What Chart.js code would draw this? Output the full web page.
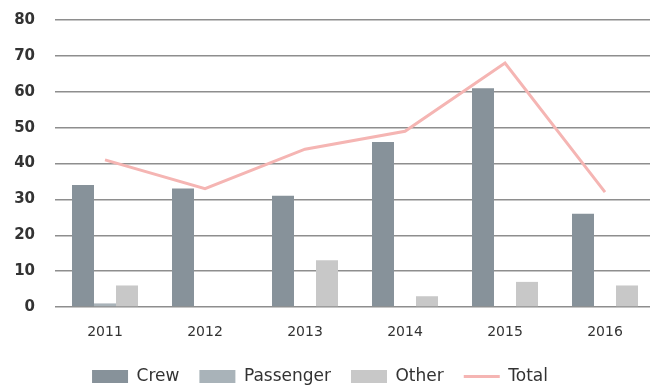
<!DOCTYPE html>
<html>
<head>
<meta charset="utf-8">
<script src="https://cdn.jsdelivr.net/npm/chart.js@4.4.1/dist/chart.umd.min.js"></script>
<style>
    html, body { margin: 0; padding: 0; background: #fff; overflow: hidden; }
    body { width: 650px; height: 389px; position: relative; }
    .chartBox { position: absolute; left: -15px; top: 0; width: 670px; height: 395px; }
</style>
</head>
<body>
<div class="chartBox"><canvas id="myChart"></canvas></div>
<script>
const years = ['2011', '2012', '2013', '2014', '2015', '2016'];
const crew = [34, 33, 31, 46, 61, 26];
const passenger = [1, 0, 0, 0, 0, 0];
const other = [6, 0, 13, 3, 7, 6];
const total = [41, 33, 44, 49, 68, 32];
const yTicks = [0, 10, 20, 30, 40, 50, 60, 70, 80];

var barChartData = {
    labels: years,
    datasets: [
        {
            type: 'line',
            label: 'Total',
            data: total,
            borderColor: '#f5b5b3',
            backgroundColor: '#f5b5b3',
            borderWidth: 3,
            pointRadius: 0,
            pointStyle: 'line',
            tension: 0,
            order: 0
        },
        {
            label: 'Crew',
            data: crew,
            backgroundColor: '#87929a',
            pointStyle: 'rect',
            order: 1
        },
        {
            label: 'Passenger',
            data: passenger,
            backgroundColor: '#a9b3b9',
            pointStyle: 'rect',
            order: 1
        },
        {
            label: 'Other',
            data: other,
            backgroundColor: '#c8c8c8',
            pointStyle: 'rect',
            order: 1
        }
    ]
};

// legend order: bars first, line last
const legendOrder = ['Crew', 'Passenger', 'Other', 'Total'];

new Chart(document.getElementById('myChart').getContext('2d'), {
    type: 'bar',
    data: barChartData,
    options: {
        responsive: true,
        maintainAspectRatio: false,
        animation: false,
        layout: { padding: { top: 20, left: 0, right: 0, bottom: 0 } },
        datasets: {
            bar: { barPercentage: 1, categoryPercentage: 0.66 }
        },
        plugins: {
            tooltip: { enabled: false },
            legend: {
                position: 'bottom',
                labels: {
                    usePointStyle: true,
                    pointStyleWidth: 36,
                    boxHeight: 13,
                    padding: 20,
                    color: '#333',
                    font: { family: 'DejaVu Sans', size: 17 },
                    sort: (a, b) => legendOrder.indexOf(a.text) - legendOrder.indexOf(b.text)
                }
            }
        },
        scales: {
            x: {
                afterFit: (axis) => { axis.height = 41; },
                grid: { display: false, drawTicks: false },
                border: { display: false },
                ticks: {
                    padding: 17,
                    color: '#333',
                    font: { family: 'DejaVu Sans', size: 14 }
                }
            },
            y: {
                min: 0,
                max: 80,
                afterFit: (axis) => {
                    axis.width = 70;
                    axis.paddingTop = 0;
                    axis.paddingBottom = 0;
                },
                afterBuildTicks: (axis) => { axis.ticks = yTicks.map(v => ({ value: v })); },
                grid: { color: '#8e8e8e', lineWidth: 1.5, drawTicks: false },
                border: { display: false },
                ticks: {
                    padding: 20,
                    color: '#333',
                    font: { family: 'DejaVu Sans', size: 15, weight: 'bold' }
                }
            }
        }
    }
});
</script>
</body>
</html>
